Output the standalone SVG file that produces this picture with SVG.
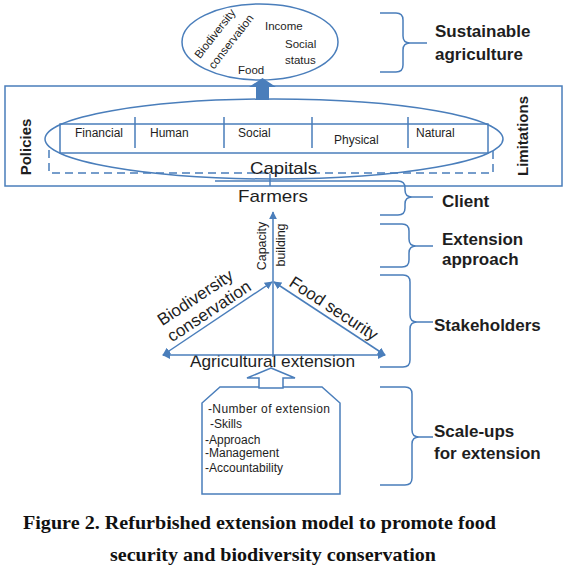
<svg xmlns="http://www.w3.org/2000/svg" width="568" height="577" viewBox="0 0 568 577">
<defs>
<style>
.ln{fill:none;stroke:#4a7ebb;stroke-width:1.5}
.t{font-family:"Liberation Sans",Arial,sans-serif;fill:#1e1e1e}
.b{font-weight:bold;font-size:17px}
.s{font-size:11.5px}
.c{font-size:12px}
.m{font-size:17px}
.cap{font-family:"Liberation Serif","Times New Roman",serif;font-weight:bold;font-size:19px;fill:#111}
</style>
<marker id="ah" viewBox="0 0 10 10" refX="9" refY="5" markerWidth="8" markerHeight="8" orient="auto-start-reverse" markerUnits="userSpaceOnUse"><path d="M0,0 L10,5 L0,10 z" fill="#4a7ebb"/></marker>
</defs>
<rect width="568" height="577" fill="#fff"/>

<g id="sustainable-agriculture">
<ellipse cx="260" cy="42" rx="78" ry="38" class="ln"/>
<text class="t s" x="265" y="30">Income</text>
<text class="t s" x="285" y="48">Social</text>
<text class="t s" x="285" y="64">status</text>
<text class="t s" x="238" y="74">Food</text>
<text class="t s" text-anchor="middle" transform="translate(218,36) rotate(-52)">Biodiversity</text>
<text class="t s" text-anchor="middle" transform="translate(234,44) rotate(-52)">conservation</text>
</g>

<g id="capitals-frame">
<rect x="5" y="86" width="557" height="100" class="ln"/>
<path d="M49,150 V173 H493 V150" class="ln" stroke-dasharray="8 5"/>
<ellipse cx="274" cy="139" rx="229" ry="40" class="ln"/>
<rect x="60" y="124" width="428" height="29" class="ln"/>
<path d="M135,117 V148 M224,117 V148 M312,117 V148 M408,117 V148" class="ln"/>
<text class="t c" x="75" y="137">Financial</text>
<text class="t c" x="150" y="137">Human</text>
<text class="t c" x="238" y="137">Social</text>
<text class="t c" x="334" y="144">Physical</text>
<text class="t c" x="416" y="137">Natural</text>
<text class="t m" x="283.5" y="174" text-anchor="middle" textLength="67" lengthAdjust="spacingAndGlyphs">Capitals</text>
<text class="t" font-weight="bold" font-size="15" text-anchor="middle" transform="translate(31,147) rotate(-90)">Policies</text>
<text class="t" font-weight="bold" font-size="15" text-anchor="middle" transform="translate(528,136) rotate(-90)">Limitations</text>
</g>

<g id="farmers">
<text class="t m" x="273" y="202" text-anchor="middle" textLength="70" lengthAdjust="spacingAndGlyphs">Farmers</text>
</g>

<g id="stakeholders">
<text class="t m" x="272.5" y="367" text-anchor="middle" textLength="165" lengthAdjust="spacingAndGlyphs">Agricultural extension</text>
<text class="t m" text-anchor="middle" transform="translate(217.5,318.5) rotate(-33.5)"><tspan x="-7" y="-24">Biodiversity</tspan><tspan x="-3" y="-5">conservation</tspan></text>
<text class="t m" text-anchor="middle" transform="translate(329.5,318.5) rotate(33.3)" x="-2" y="-5">Food security</text>
<text class="t" font-size="12.5" text-anchor="middle" transform="translate(266,246) rotate(-90)">Capacity</text>
<text class="t" font-size="12.5" text-anchor="middle" transform="translate(285,245) rotate(-90)">building</text>
</g>

<g id="scale-ups-box">
<path d="M220,387 H322 L340,403 V494 H202 V403 Z" fill="#fff" stroke="#4a7ebb" stroke-width="1.5"/>
<text class="t c" x="208" y="413" textLength="122" lengthAdjust="spacing">-Number of extension</text>
<text class="t c" x="210" y="428">-Skills</text>
<text class="t c" x="205" y="444">-Approach</text>
<text class="t c" x="205" y="457">-Management</text>
<text class="t c" x="205" y="472">-Accountability</text>
</g>

<g id="connectors">
<polygon points="262.5,78 276,87 269,87 269,100 256,100 256,87 249,87" fill="#4a7ebb"/>
<line x1="270" y1="174" x2="270" y2="186" class="ln"/>
<line x1="273" y1="357" x2="273" y2="212" class="ln" marker-end="url(#ah)"/>
<line x1="163" y1="355" x2="385" y2="355" class="ln" marker-start="url(#ah)" marker-end="url(#ah)"/>
<line x1="272" y1="282" x2="163" y2="355" class="ln" marker-start="url(#ah)" marker-end="url(#ah)"/>
<line x1="274" y1="282" x2="385" y2="355" class="ln" marker-start="url(#ah)" marker-end="url(#ah)"/>
<polygon points="271,368 295,378 283,378 283,388 259,388 259,378 247,378" fill="#fff" stroke="#4a7ebb" stroke-width="1.5"/>
</g>

<g id="brackets">
<path class="ln" d="M380,13 H396 Q403,13 403,20 V36 Q403,43 410,43 H427 M410,43 Q403,43 403,50 V65 Q403,72 396,72 H380"/>
<path class="ln" d="M215,181 H398 Q405,181 405,188 V190 Q405,197 412,197 H433 M412,197 Q405,197 405,204 V208 Q405,215 398,215 H380"/>
<path class="ln" d="M380,224 H402 Q409,224 409,231 V239 Q409,246 416,246 H433 M416,246 Q409,246 409,253 V260 Q409,267 402,267 H380"/>
<path class="ln" d="M380,275 H403 Q410,275 410,282 V315 Q410,322 417,322 H433 M417,322 Q410,322 410,329 V360 Q410,367 403,367 H380"/>
<path class="ln" d="M380,387 H405 Q412,387 412,394 V430 Q412,437 419,437 H433 M419,437 Q412,437 412,444 V478 Q412,485 405,485 H380"/>
</g>

<g id="labels">
<text class="t b" x="435" y="37">Sustainable</text>
<text class="t b" x="435" y="60">agriculture</text>
<text class="t b" x="442" y="207">Client</text>
<text class="t b" x="442" y="245">Extension</text>
<text class="t b" x="442" y="265">approach</text>
<text class="t b" x="434" y="331">Stakeholders</text>
<text class="t b" x="434" y="437">Scale-ups</text>
<text class="t b" x="434" y="459">for extension</text>
</g>

<g id="caption">
<text class="cap" x="259.5" y="529" text-anchor="middle" textLength="473" lengthAdjust="spacingAndGlyphs">Figure 2. Refurbished extension model to promote food</text>
<text class="cap" x="273" y="561" text-anchor="middle" textLength="326" lengthAdjust="spacingAndGlyphs">security and biodiversity conservation</text>
</g>
</svg>
